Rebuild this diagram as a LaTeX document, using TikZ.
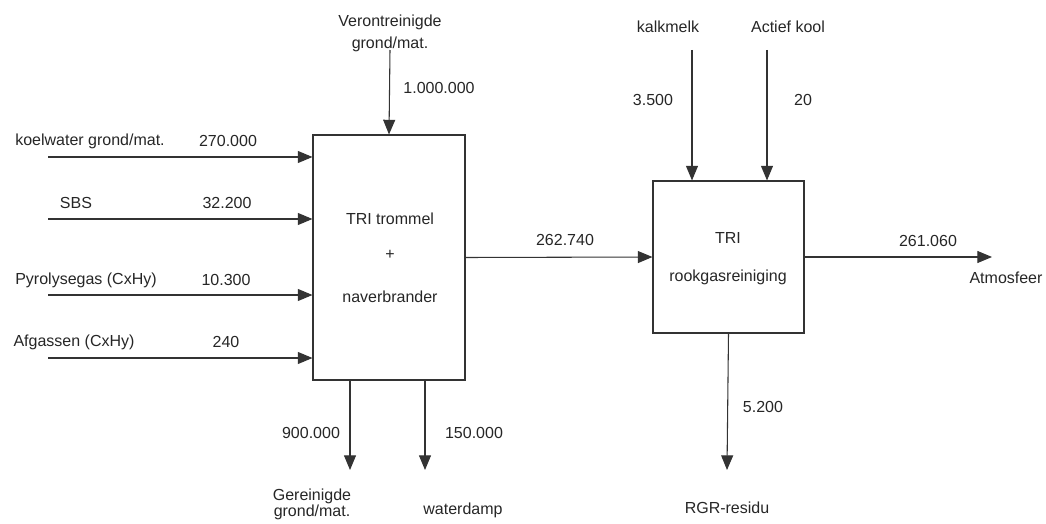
\documentclass[tikz,border=0pt]{standalone}
\usepackage{fontspec}
\setmainfont{Liberation Sans}
\usetikzlibrary{arrows.meta}

\begin{document}
\begin{tikzpicture}[x=0.75pt,y=-0.75pt,
    proces/.style={draw=black!80, line width=0.8pt},
    stroom/.style={draw=black!80, line width=0.8pt, -{Triangle[length=11pt,width=9pt]}},
    lbl/.style={text=black!85, inner sep=0pt, align=center, font=\fontsize{12}{16.5}\selectfont}]
    \useasboundingbox (0,0) rectangle (1046,524);
            % processen
            \node[proces, minimum width=114pt, minimum height=183.75pt] (trommel) at (389,257.5) {};
            \node[proces, minimum width=113.25pt, minimum height=114pt] (rgr) at (728.5,257) {};
            \node[lbl] (t1) at (390,219) {TRI trommel};
            \node[lbl] (t2) at (390,255) {+};
            \node[lbl] (t3) at (390,297) {naverbrander};
            \node[lbl] (r1) at (728,238) {TRI};
            \node[lbl] (r2) at (728,277) {rookgasreiniging};
            % ingaande stromen trommel
            \node[lbl] (koel) at (90,141) {koelwater grond/mat.};
            \node[lbl] (koelv) at (228,141) {270.000};
            \node[lbl] (sbs) at (76,203) {SBS};
            \node[lbl] (sbsv) at (227,203) {32.200};
            \node[lbl] (pyro) at (86,280) {Pyrolysegas (CxHy)};
            \node[lbl] (pyrov) at (226,280) {10.300};
            \node[lbl] (afg) at (74,342) {Afgassen (CxHy)};
            \node[lbl] (afgv) at (226,342) {240};
            \node[lbl] (veron) at (390,33) {Verontreinigde\\grond/mat.};
            \node[lbl] (veronv) at (439,88) {1.000.000};
            \coordinate (i1) at (48,157);
            \coordinate (i2) at (48,219);
            \coordinate (i3) at (48,295);
            \coordinate (i4) at (48,358);
            \coordinate (i5) at (390,50);
            \draw[stroom] (i1) -- (trommel.west |- i1);
            \draw[stroom] (i2) -- (trommel.west |- i2);
            \draw[stroom] (i3) -- (trommel.west |- i3);
            \draw[stroom] (i4) -- (trommel.west |- i4);
            \draw[stroom] (i5) -- (trommel.north);
            % uitgaande stromen trommel
            \coordinate (u1) at (350,470);
            \coordinate (u2) at (425,470);
            \draw[stroom] (u1 |- trommel.south) -- (u1);
            \draw[stroom] (u2 |- trommel.south) -- (u2);
            \node[lbl] (u1v) at (311,433) {900.000};
            \node[lbl] (u2v) at (474,433) {150.000};
            \node[lbl, font=\fontsize{12}{12}\selectfont] (gerein) at (312,504) {Gereinigde\\grond/mat.};
            \node[lbl] (damp) at (463,510) {waterdamp};
            % rookgas
            \draw[stroom] (trommel.east) -- (rgr.west);
            \node[lbl] (rookv) at (565,240) {262.740};
            % rookgasreiniging
            \coordinate (k1) at (692,50);
            \coordinate (k2) at (767,50);
            \draw[stroom] (k1) -- (k1 |- rgr.north);
            \draw[stroom] (k2) -- (k2 |- rgr.north);
            \node[lbl] (kalk) at (668,27) {kalkmelk};
            \node[lbl] (kool) at (788,27) {Actief kool};
            \node[lbl] (kalkv) at (653,100) {3.500};
            \node[lbl] (koolv) at (803,100) {20};
            \coordinate (atm) at (992,257);
            \draw[stroom] (rgr.east) -- (atm);
            \node[lbl] (atmv) at (928,241) {261.060};
            \node[lbl] (atmos) at (1006,278) {Atmosfeer};
            \coordinate (res) at (727,470);
            \draw[stroom] (rgr.south) -- (res);
            \node[lbl] (resv) at (763,407) {5.200};
            \node[lbl] (resid) at (727,508) {RGR-residu};
\end{tikzpicture}
\end{document}
